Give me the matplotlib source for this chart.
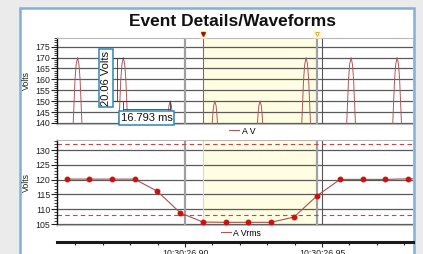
import matplotlib
matplotlib.use('Agg')
import matplotlib.pyplot as plt
import matplotlib.transforms as mtransforms
from matplotlib.patches import Rectangle
from matplotlib.lines import Line2D
from matplotlib.ticker import MultipleLocator, FixedLocator

plt.rcParams['font.family'] = ['Liberation Sans', 'DejaVu Sans']

# ---------------- data (time in ms relative to 10:30:26.90) ----------------
wave_peak_t = [-39.2, -22.5, -5.4, 10.9, 27.4, 44.2, 60.6, 77.4]
wave_peak_v = [170, 170, 150, 150, 150, 170, 170, 170]
# visible part of each half-cycle hump (offsets in ms, volts), by peak value
hump_dt = {170: [-1.62, -0.92, -0.5, 0.0, 0.5, 0.92, 1.62],
           150: [-1.02, -0.68, -0.43, 0.0, 0.43, 0.68, 1.02]}
hump_v = {170: [139, 160, 167, 170, 167, 160, 139],
          150: [139, 145, 148, 150, 148, 145, 139]}

rms_t = [-43.2, -35.0, -26.6, -18.4, -10.1, -1.7, 6.5, 15.0, 23.1, 31.4,
         39.8, 48.2, 56.6, 64.9, 73.1, 81.4, 89.7]
rms_v = [120.2, 120.2, 120.2, 120.2, 116.1, 108.8, 105.7, 105.6, 105.6, 105.6,
         107.4, 114.6, 120.1, 120.1, 120.1, 120.3, 120.3]
limit_hi = 132.0
limit_lo = 108.0

cursor1 = 6.6
cursor2 = 48.2
ref_line_0 = 0.0
ref_line_1 = 50.0

time_ticks = [0, 50]
time_labels = ['10:30:26.90', '10:30:26.95']
top_yticks = [140, 145, 150, 155, 160, 165, 170, 175]
bot_yticks = [105, 110, 115, 120, 125, 130]

ann_volts = '20.06 Volts'
ann_ms = '16.793 ms'
title = 'Event Details/Waveforms'

# ---------------- figure ----------------
W, H = 423, 254
fig = plt.figure(figsize=(W / 100, H / 100), dpi=100, facecolor='#ebebeb')

panel = Rectangle((20 / W, -0.1), (414 - 20) / W, 1 - 8 / H + 0.1,
                  transform=fig.transFigure, facecolor='white',
                  edgecolor='#7fb0de', linewidth=1.8, zorder=-10)
fig.patches.append(panel)

fig.text(232 / W, 1 - 26 / H, title, ha='center', va='baseline',
         fontsize=12.5, fontweight='bold', color='#111111')

xlim = (-46.7, 83.2)
ax1 = fig.add_axes([57 / W, 1 - 124 / H, 356 / W, 86 / H])
ax2 = fig.add_axes([57 / W, 1 - 225 / H, 356 / W, 85 / H])
ax3 = fig.add_axes([57 / W, 1 - 242 / H, 356 / W, 0.0001])

wave_color = '#b05858'
for ax, ticks, ylim in ((ax1, top_yticks, (139.5, 179.0)),
                        (ax2, bot_yticks, (104.7, 133.4))):
    ax.set_xlim(*xlim)
    ax.set_ylim(*ylim)
    ax.set_facecolor('none')
    ax.set_axisbelow(True)
    ax.yaxis.set_major_locator(FixedLocator(ticks))
    ax.yaxis.set_minor_locator(MultipleLocator(1))
    ax.set_xticks([])
    ax.tick_params(axis='y', which='major', length=4.3, width=0.8,
                   labelsize=6.3, pad=0.6, colors='#222222')
    ax.tick_params(axis='y', which='minor', length=2.2, width=0.6,
                   colors='#222222')
    ax.grid(axis='y', which='major', color='#5a5a5a', linewidth=0.9)
    for s in ('top', 'right', 'bottom'):
        ax.spines[s].set_color('#b8b8b8')
        ax.spines[s].set_linewidth(0.8)
    ax.spines['left'].set_color('#111111')
    ax.spines['left'].set_linewidth(1.0)
    ax.axvspan(cursor1, cursor2, color='#fffde2', zorder=0.1, lw=0)
    ax.axvline(ref_line_0, color='#a0a0a0', lw=1.6, zorder=1)
    ax.axvline(cursor2, color='#a0a0a0', lw=1.6, zorder=1)
    ax.axvline(ref_line_1, color='#555555', lw=0.8, zorder=1)

ax1.axvline(cursor1, color='#c05050', lw=0.8, zorder=1)
ax2.axvline(cursor1, color='#e0d8b0', lw=0.8, zorder=1)

# waveform humps
for pt, pv in zip(wave_peak_t, wave_peak_v):
    ax1.plot([pt + d for d in hump_dt[pv]], hump_v[pv], color=wave_color,
             lw=0.7, zorder=2)

# rms trend
ax2.axhline(limit_hi, color='#c04848', lw=0.8, ls=(0, (4, 3)), zorder=1.5)
ax2.axhline(limit_lo, color='#c04848', lw=0.8, ls=(0, (4, 3)), zorder=1.5)
ax2.plot(rms_t, rms_v, color='#a85050', lw=0.8, zorder=2)
ax2.plot(rms_t, rms_v, ls='none', marker='o', ms=3.2, color='#cc1111',
         zorder=3)

# y labels
fig.text(26.5 / W, 1 - 81 / H, 'Volts', rotation=90, ha='center',
         va='center', fontsize=6.3, color='#222222')
fig.text(26.5 / W, 1 - 183 / H, 'Volts', rotation=90, ha='center',
         va='center', fontsize=6.3, color='#222222')

# cursor markers above top axes
trans = mtransforms.blended_transform_factory(ax1.transData, ax1.transAxes)
for c in (cursor1, cursor2):
    ax1.plot([c], [1.047], marker='s', ms=5.5, color='#fff6cc', mec='none',
             transform=trans, clip_on=False, zorder=4)
ax1.plot([cursor1], [1.047], marker='v', ms=2.8, color='#8b1a1a',
         transform=trans, clip_on=False, zorder=5)
ax1.plot([cursor2], [1.047], marker='v', ms=2.8, mfc='white', mec='#c8a840',
         mew=0.6, transform=trans, clip_on=False, zorder=5)

# annotations
ann_c = '#3a3a3a'
ax1.plot([-26.6, -22.5], [169.6, 169.6], color=ann_c, lw=0.6, zorder=3)
ax1.plot([-24.9, -24.9], [169.6, 150.1], color=ann_c, lw=0.6, zorder=3)
ax1.plot([-26.6, -5.4], [150.1, 150.1], color=ann_c, lw=0.6, zorder=3)
ax1.plot([-22.5, -22.5], [150.1, 144.8], color=ann_c, lw=0.6, zorder=3)
ax1.plot([-5.4, -5.4], [150.1, 144.8], color=ann_c, lw=0.6, zorder=3)
ax1.plot([-22.5, -5.4], [146.6, 146.6], color=ann_c, lw=0.6, zorder=3)
box = dict(boxstyle='square,pad=0.15', fc='white', ec='#2f86b8', lw=1.1)
ax1.text(-28.8, 160.6, ann_volts, rotation=90, ha='center', va='center',
         fontsize=8, color='#111111', bbox=box, zorder=6)
ax1.text(-14.0, 142.2, ann_ms, ha='center', va='center', fontsize=8,
         color='#111111', bbox=box, zorder=6, clip_on=False)

# legends
leg_kw = dict(frameon=False, fontsize=6.3, handlelength=1.15,
              handletextpad=0.3, borderpad=0, borderaxespad=0)
fig.legend([Line2D([], [], color=wave_color, lw=0.8)], ['A V'],
           loc='center', bbox_to_anchor=(242 / W, 1 - 131 / H), **leg_kw)
fig.legend([Line2D([], [], color=wave_color, lw=0.8)], ['A Vrms'],
           loc='center', bbox_to_anchor=(241 / W, 1 - 233 / H), **leg_kw)

# time axis
ax3.set_xlim(*xlim)
ax3.set_facecolor('none')
ax3.set_yticks([])
for s in ('top', 'right', 'left'):
    ax3.spines[s].set_visible(False)
ax3.spines['bottom'].set_linewidth(2.2)
ax3.spines['bottom'].set_color('#1a1a1a')
ax3.xaxis.set_major_locator(FixedLocator(time_ticks))
ax3.set_xticklabels(time_labels)
ax3.xaxis.set_minor_locator(MultipleLocator(10))
ax3.tick_params(axis='x', which='major', length=3.5, width=0.8,
                labelsize=6.3, pad=1.5, colors='#222222')
ax3.tick_params(axis='x', which='minor', length=2.2, width=0.8,
                colors='#222222')

fig.savefig('out.png', dpi=100, facecolor=fig.get_facecolor())
